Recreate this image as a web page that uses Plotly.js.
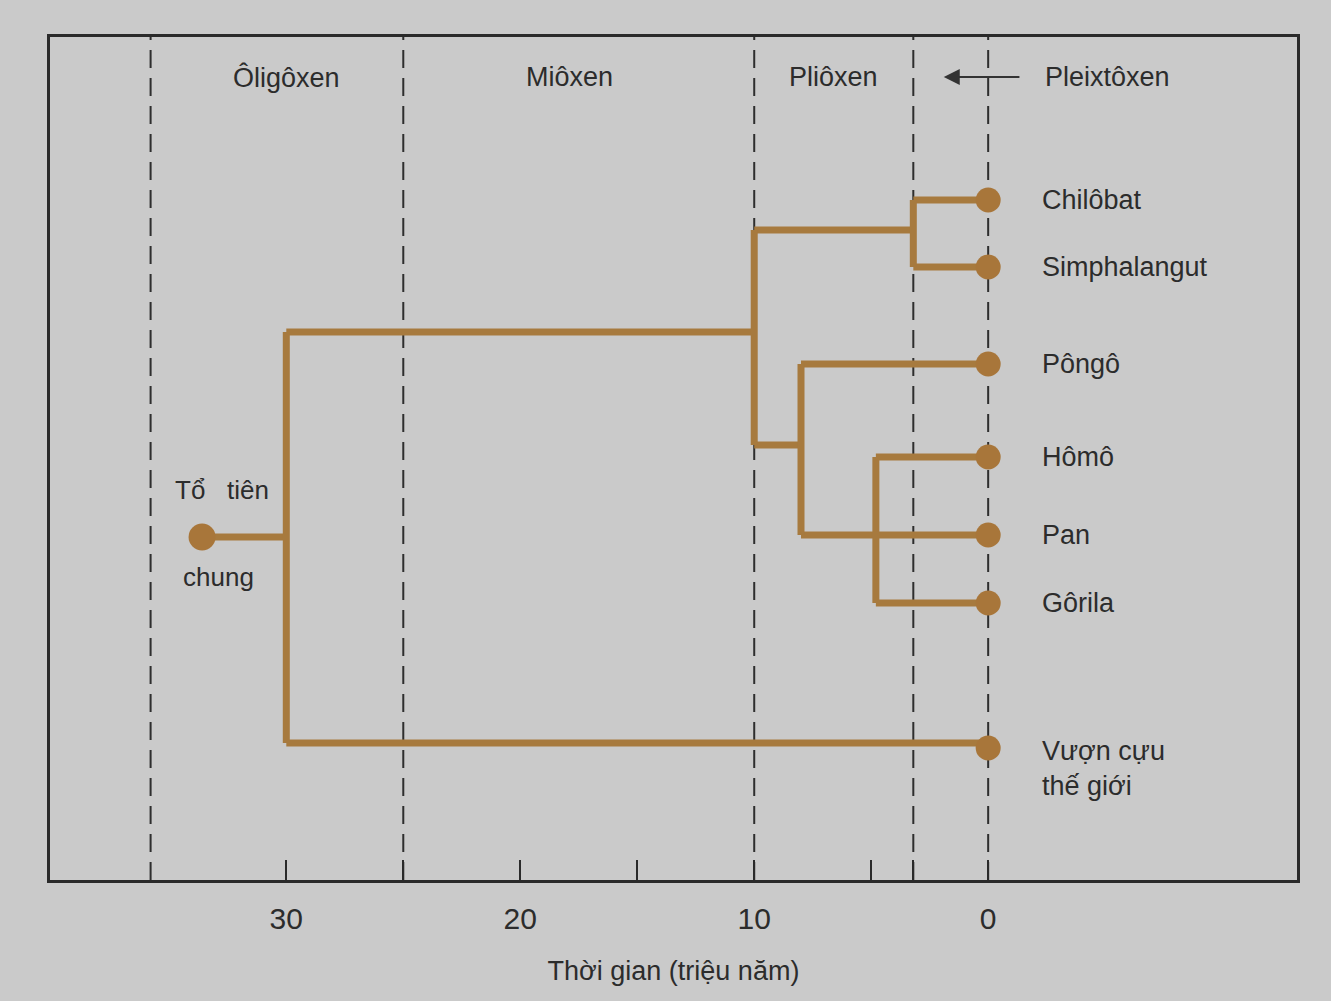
<!DOCTYPE html>
<html>
<head>
<meta charset="utf-8">
<script src="https://cdn.plot.ly/plotly-3.0.1.min.js"></script>
<style>html,body{margin:0;padding:0;background:#cacaca;}#chart{width:1331px;height:1001px;}</style>
</head>
<body>
<div id="chart"></div>
<script>
// ---- data ----
const epochNames = ['Ôligôxen', 'Miôxen', 'Pliôxen', 'Pleixtôxen'];
const epochLabelTime = [30, 17.9, 6.6, -5.1];
const epochBoundaries = [35.8, 25, 10, 3.2, 0];

const leafNames = ['Chilôbat', 'Simphalangut', 'Pôngô', 'Hômô', 'Pan', 'Gôrila', 'Vượn cựu<br>thế giới'];
const leafTime = [0, 0, 0, 0, 0, 0, 0];
const leafRow = [200, 267, 364, 457, 535, 603, 748];

const rootName = ['Tổ   tiên', 'chung'];
const rootTime = [33.6];
const rootRow = [537];

// horizontal branches: row, start time, end time
const hBranchRow = [537, 332, 743, 230, 200, 267, 445, 364, 535, 457, 603];
const hBranchFrom = [33.6, 30, 30, 10, 3.2, 3.2, 10, 8, 8, 4.8, 4.8];
const hBranchTo = [30, 10, 0, 3.2, 0, 0, 8, 0, 0, 0, 0];
// vertical branches: time, top row, bottom row
const vBranchTime = [30, 10, 3.2, 8, 4.8];
const vBranchTop = [332, 230, 200, 364, 457];
const vBranchBottom = [743, 445, 267, 535, 603];

const tickVals = [30, 25, 20, 15, 10, 5, 3.2, 0];
const tickText = ['30', '', '20', '', '10', '', '', '0'];

// ---- build ----
const BR = '#a77a3e';
const bx = [], by = [];
hBranchRow.forEach((r, i) => { bx.push(hBranchFrom[i], hBranchTo[i], null); by.push(r, r, null); });
vBranchTime.forEach((t, i) => { bx.push(t, t, null); by.push(vBranchTop[i], vBranchBottom[i], null); });

const traces = [
  {type: 'scatter', mode: 'lines', x: bx, y: by, line: {color: BR, width: 7}, hoverinfo: 'skip'},
  {type: 'scatter', mode: 'markers', x: leafTime, y: leafRow, marker: {color: '#a8763a', size: 25}, hoverinfo: 'skip'},
  {type: 'scatter', mode: 'markers', x: rootTime, y: rootRow, marker: {color: '#a8763a', size: 27}, hoverinfo: 'skip'}
];

const font = 'Liberation Sans, Arial, sans-serif';
const TXT = '#2c2c2c';
const shapes = epochBoundaries.map(t => ({
  type: 'line', xref: 'x', yref: 'paper', x0: t, x1: t, y0: 0, y1: 1,
  line: {color: '#2e2e2e', width: 2, dash: '18px,10px'}, layer: 'below'
}));

const annotations = [];
epochNames.forEach((n, i) => annotations.push({
  x: epochLabelTime[i], y: 77, xref: 'x', yref: 'y', text: n, showarrow: false,
  font: {family: font, size: 27, color: TXT}
}));
// Pleistocene arrow
annotations.push({x: 1.9, y: 77, ax: -1.4, ay: 77, xref: 'x', yref: 'y', axref: 'x', ayref: 'y',
  text: '', showarrow: true, arrowhead: 2, arrowsize: 1.6, arrowwidth: 2, arrowcolor: '#333'});
leafNames.forEach((n, i) => annotations.push({
  x: leafTime[i], y: leafRow[i], xref: 'x', yref: 'y', text: n, showarrow: false,
  xanchor: 'left', xshift: 52, yshift: i === 6 ? -20 : 0, align: 'left',
  font: {family: font, size: 27, color: TXT}
}));
annotations.push({x: rootTime[0] - 0.85, y: rootRow[0] - 47, xref: 'x', yref: 'y', text: rootName[0], showarrow: false,
  font: {family: font, size: 26, color: TXT}});
annotations.push({x: rootTime[0] - 0.7, y: rootRow[0] + 40, xref: 'x', yref: 'y', text: rootName[1], showarrow: false,
  font: {family: font, size: 26, color: TXT}});

const layout = {
  width: 1331, height: 1001,
  margin: {l: 50, r: 34, t: 37, b: 121},
  paper_bgcolor: '#cacaca', plot_bgcolor: '#cacaca',
  showlegend: false,
  xaxis: {
    range: [40.1, -13.2], showgrid: false, zeroline: false,
    showline: true, mirror: true, linecolor: '#2a2a2a', linewidth: 3,
    tickmode: 'array', tickvals: tickVals, ticktext: tickText,
    ticks: 'inside', ticklen: 20, tickwidth: 2, tickcolor: '#2a2a2a',
    ticklabelstandoff: 10,
    tickfont: {family: font, size: 30, color: TXT},
    title: {text: 'Thời gian (triệu năm)', font: {family: font, size: 27, color: TXT}, standoff: 28}
  },
  yaxis: {
    range: [880, 37], showgrid: false, zeroline: false, showticklabels: false, ticks: '',
    showline: true, mirror: true, linecolor: '#2a2a2a', linewidth: 3
  },
  shapes: shapes,
  annotations: annotations
};

Plotly.newPlot('chart', traces, layout, {displayModeBar: false, staticPlot: true});
</script>
</body>
</html>
